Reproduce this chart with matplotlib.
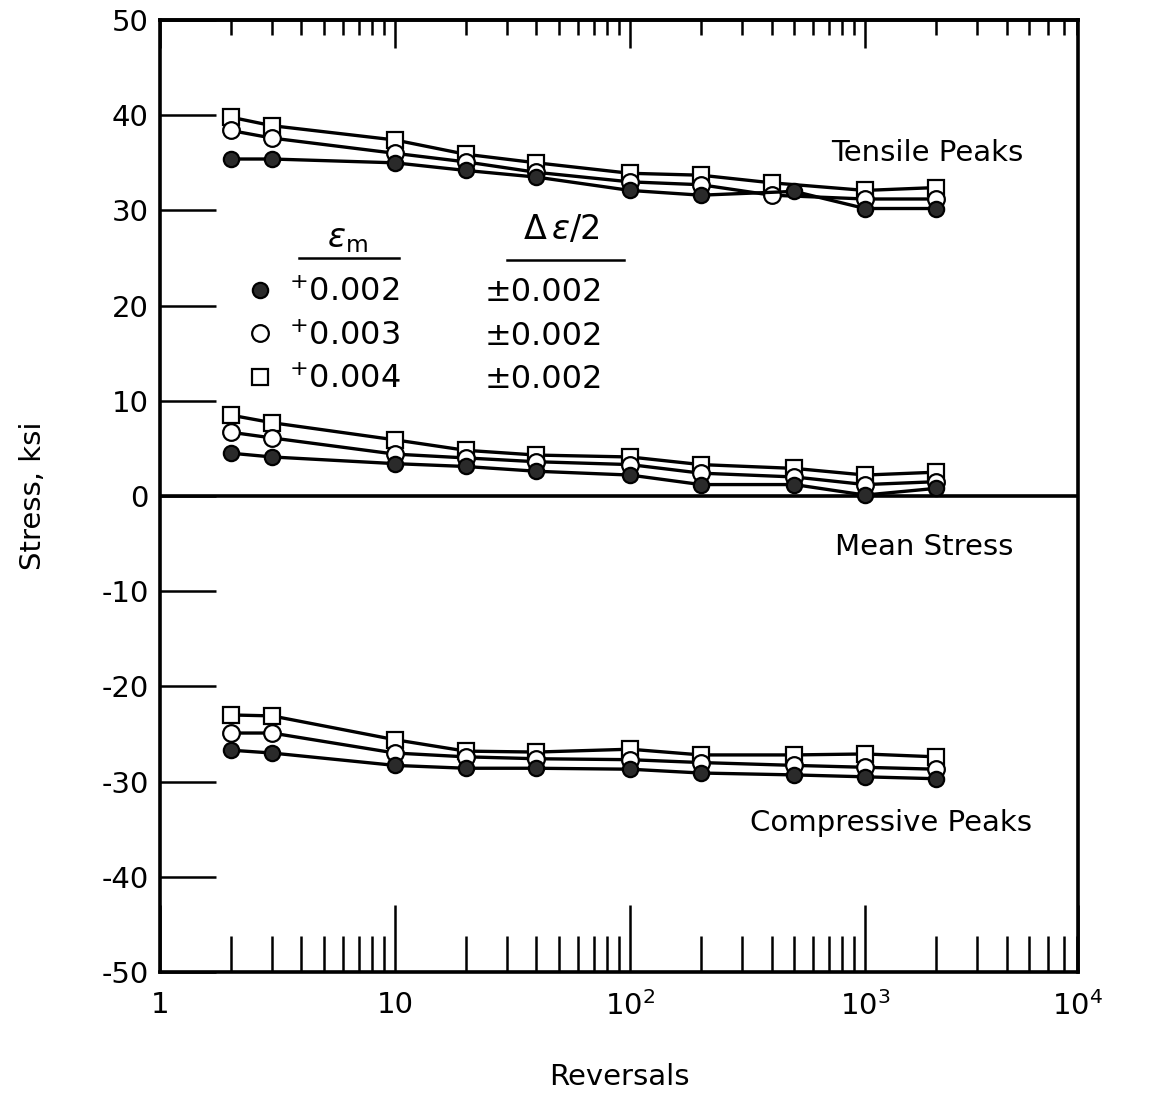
import numpy as np
import matplotlib
matplotlib.use('Agg')
from matplotlib import pyplot as plt
from matplotlib.ticker import FixedLocator, NullFormatter, LogLocator

plt.rcParams['font.family'] = ['DejaVu Sans']
plt.rcParams['axes.unicode_minus'] = False

# reversals at which each series was read
x_all = [2, 3, 10, 20, 40, 100, 200, 500, 1000, 2000]
x_tens_open = [2, 3, 10, 20, 40, 100, 200, 400, 1000, 2000]

# tensile peaks, ksi
tens_002 = [35.4, 35.4, 35.0, 34.2, 33.5, 32.1, 31.6, 32.0, 30.2, 30.2]
tens_003 = [38.4, 37.6, 36.0, 35.1, 34.0, 33.0, 32.7, 31.6, 31.2, 31.2]
tens_004 = [39.8, 38.9, 37.4, 35.9, 35.0, 33.9, 33.7, 32.9, 32.1, 32.4]

# mean stress, ksi
mean_002 = [4.5, 4.1, 3.4, 3.1, 2.6, 2.2, 1.2, 1.2, 0.1, 0.8]
mean_003 = [6.7, 6.1, 4.4, 4.0, 3.6, 3.3, 2.4, 2.0, 1.2, 1.5]
mean_004 = [8.5, 7.7, 5.9, 4.8, 4.3, 4.1, 3.3, 2.9, 2.2, 2.5]

# compressive peaks, ksi
comp_002 = [-26.7, -27.0, -28.3, -28.6, -28.6, -28.7, -29.1, -29.3, -29.5, -29.7]
comp_003 = [-24.9, -24.9, -27.0, -27.4, -27.6, -27.7, -28.0, -28.3, -28.5, -28.7]
comp_004 = [-23.0, -23.1, -25.6, -26.8, -26.9, -26.6, -27.2, -27.2, -27.1, -27.4]

eps_m = ['$^{+}$0.002', '$^{+}$0.003', '$^{+}$0.004']
d_eps = ['\u00b10.002', '\u00b10.002', '\u00b10.002']

x_ticks = [1, 10, 100, 1000, 8050]
x_labels = ['1', '10', '$10^2$', '$10^3$', '$10^4$']

fig = plt.figure(figsize=(11.5, 11.19), dpi=100)
ax = fig.add_axes([0.139, 0.1314, 0.9374 - 0.139, 0.9821 - 0.1314])

styles = [
    dict(marker='o', markerfacecolor='#2a2a2a', markeredgecolor='black', markersize=11),
    dict(marker='o', markerfacecolor='white', markeredgecolor='black', markersize=12),
    dict(marker='s', markerfacecolor='white', markeredgecolor='black', markersize=11),
]
line_kw = dict(color='black', linewidth=2.4, markeredgewidth=1.6)

groups = [
    [(x_all, tens_002), (x_tens_open, tens_003), (x_tens_open, tens_004)],
    [(x_all, mean_002), (x_all, mean_003), (x_all, mean_004)],
    [(x_all, comp_002), (x_all, comp_003), (x_all, comp_004)],
]
handles = [None, None, None]
for gi, g in enumerate(groups):
    for i in [2, 1, 0]:
        xs, ys = g[i]
        h, = ax.plot(xs, ys, **line_kw, **styles[i], zorder=3)
        if gi == 0:
            handles[i] = h

ax.axhline(0, color='black', linewidth=2.6, zorder=2)

ax.set_xscale('log')
ax.set_xlim(1, 8050)
ax.set_ylim(-50, 50)

ax.xaxis.set_major_locator(FixedLocator(x_ticks))
ax.set_xticklabels(x_labels, fontsize=21)
ax.xaxis.set_minor_locator(LogLocator(base=10, subs=np.arange(2, 10)))
ax.xaxis.set_minor_formatter(NullFormatter())
ax.tick_params(axis='x', which='major', direction='in', length=48, width=1.8, pad=14)
ax.tick_params(axis='x', which='minor', direction='in', length=26, width=1.8)

ax.set_yticks(np.arange(-50, 51, 10))
ax.tick_params(axis='y', which='major', direction='in', length=40, width=1.8, pad=8, labelsize=21)

# top axis carries its own shorter ticks
top = ax.secondary_xaxis('top')
top.xaxis.set_major_locator(FixedLocator([1, 10, 100, 1000]))
top.xaxis.set_minor_locator(LogLocator(base=10, subs=np.arange(2, 10)))
top.xaxis.set_major_formatter(NullFormatter())
top.xaxis.set_minor_formatter(NullFormatter())
top.tick_params(axis='x', which='major', direction='in', length=20, width=1.8)
top.tick_params(axis='x', which='minor', direction='in', length=11, width=1.8)
top.spines['top'].set_linewidth(2.6)

for s in ax.spines.values():
    s.set_linewidth(2.6)

ax.set_ylabel('Stress, ksi', fontsize=21, labelpad=39)
ax.set_xlabel('Reversals', fontsize=21, labelpad=30)

ax.text(0.836, 0.86, 'Tensile Peaks', transform=ax.transAxes, fontsize=21,
        ha='center', va='center')
ax.text(0.832, 0.446, 'Mean Stress', transform=ax.transAxes, fontsize=21,
        ha='center', va='center')
ax.text(0.796, 0.157, 'Compressive Peaks', transform=ax.transAxes, fontsize=21,
        ha='center', va='center')

# legend table
leg = ax.legend(handles, eps_m, loc='upper left', bbox_to_anchor=(0.085, 0.743),
                frameon=False, fontsize=23, handlelength=0.6, handletextpad=0.6,
                labelspacing=0.38, borderaxespad=0)
for h in leg.legend_handles:
    h.set_linestyle('none')
fig.canvas.draw()
inv = ax.transAxes.inverted()
for t, lab in zip(leg.get_texts(), d_eps):
    bb = t.get_window_extent()
    xa, ya = inv.transform(((bb.x0 + bb.x1) / 2, (bb.y0 + bb.y1) / 2))
    ax.text(0.354, ya, lab, transform=ax.transAxes, fontsize=23, va='center')
ax.text(0.204, 0.771, r'$\epsilon_{\mathrm{m}}$', transform=ax.transAxes, fontsize=24,
        ha='center', va='center')
ax.text(0.4376, 0.780, r'$\Delta\,\epsilon/2$', transform=ax.transAxes, fontsize=24,
        ha='center', va='center')
ax.plot([0.152, 0.261], [0.750, 0.750], transform=ax.transAxes, color='black', lw=1.8)
ax.plot([0.378, 0.506], [0.748, 0.748], transform=ax.transAxes, color='black', lw=1.8)

fig.savefig('out.png', dpi=100)
